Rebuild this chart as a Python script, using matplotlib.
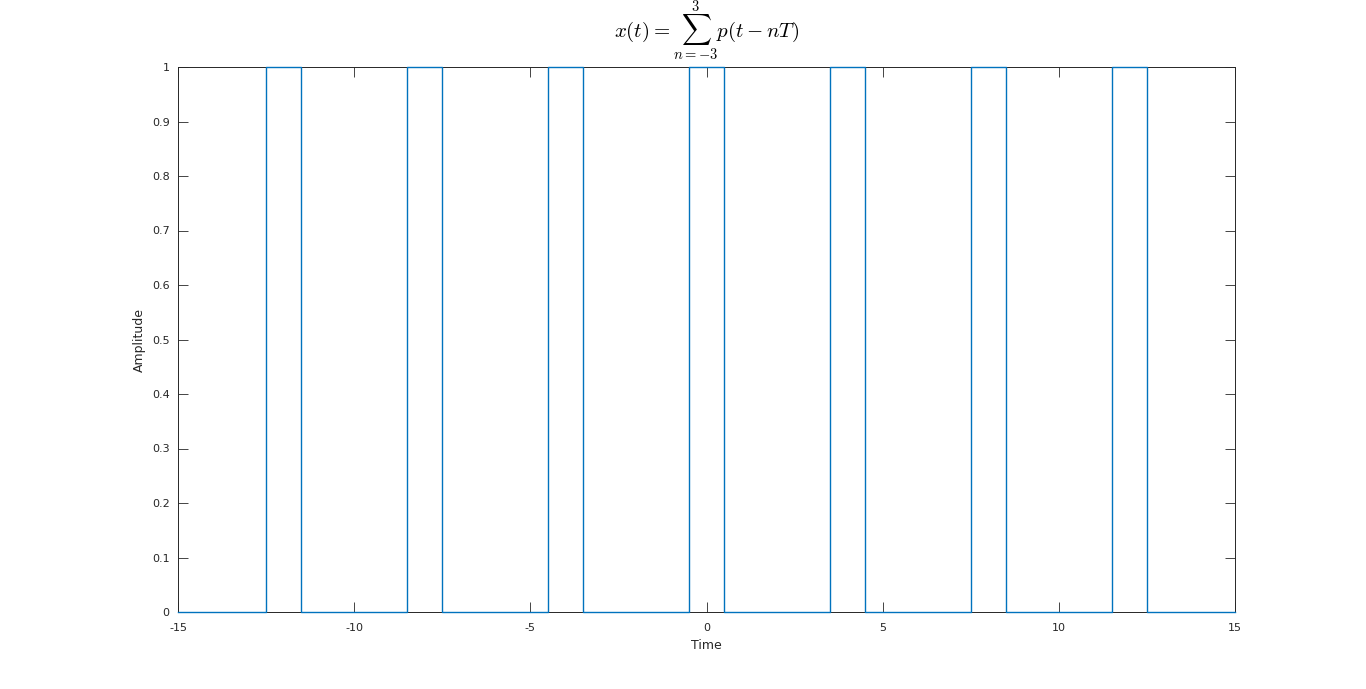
import numpy as np
import matplotlib
matplotlib.use("Agg")
import matplotlib.pyplot as plt

# Data
n_values = [-3, -2, -1, 0, 1, 2, 3]
period_T = 4
pulse_width = 1
t_limits = [-15, 15]
x_ticks = [-15, -10, -5, 0, 5, 10, 15]
y_ticks = [0, 0.1, 0.2, 0.3, 0.4, 0.5, 0.6, 0.7, 0.8, 0.9, 1]
y_ticklabels = ["0", "0.1", "0.2", "0.3", "0.4", "0.5", "0.6", "0.7", "0.8", "0.9", "1"]

# build step waveform from pulse definitions
t = [t_limits[0]]
x = [0]
for n in n_values:
    c = n * period_T
    a, b = c - pulse_width / 2, c + pulse_width / 2
    t += [a, a, b, b]
    x += [0, 1, 1, 0]
t.append(t_limits[1])
x.append(0)

plt.rcParams['mathtext.fontset'] = 'cm'
plt.rcParams['font.family'] = 'DejaVu Sans'

fig = plt.figure(figsize=(13.66, 6.89), dpi=100)
ax = fig.add_axes([178/1366, 1 - 612/689, (1235-178)/1366, (612-67)/689])
ax.plot(t, x, color='#0072BD', linewidth=1.0, clip_on=False, zorder=5)
ax.set_xlim(t_limits)
ax.set_ylim(0, 1)
ax.set_xticks(x_ticks)
ax.set_xticklabels([str(v) for v in x_ticks])
ax.set_yticks(y_ticks)
ax.set_yticklabels(y_ticklabels)
ax.tick_params(direction='in', top=True, right=True, length=7, width=0.6,
               labelsize=8, colors='#262626')
ax.tick_params(axis='x', pad=8)
ax.tick_params(axis='y', pad=6)
for s in ax.spines.values():
    s.set_linewidth(0.7)
    s.set_color('#262626')
ax.set_xlabel('Time', fontsize=9, color='#262626', labelpad=4)
ax.set_ylabel('Amplitude', fontsize=9, color='#262626', labelpad=4)
ax.set_title(r'$x(t) = \sum_{n=-3}^{3} p(t-nT)$', fontsize=15, pad=21)

fig.savefig('out.png', dpi=100)
